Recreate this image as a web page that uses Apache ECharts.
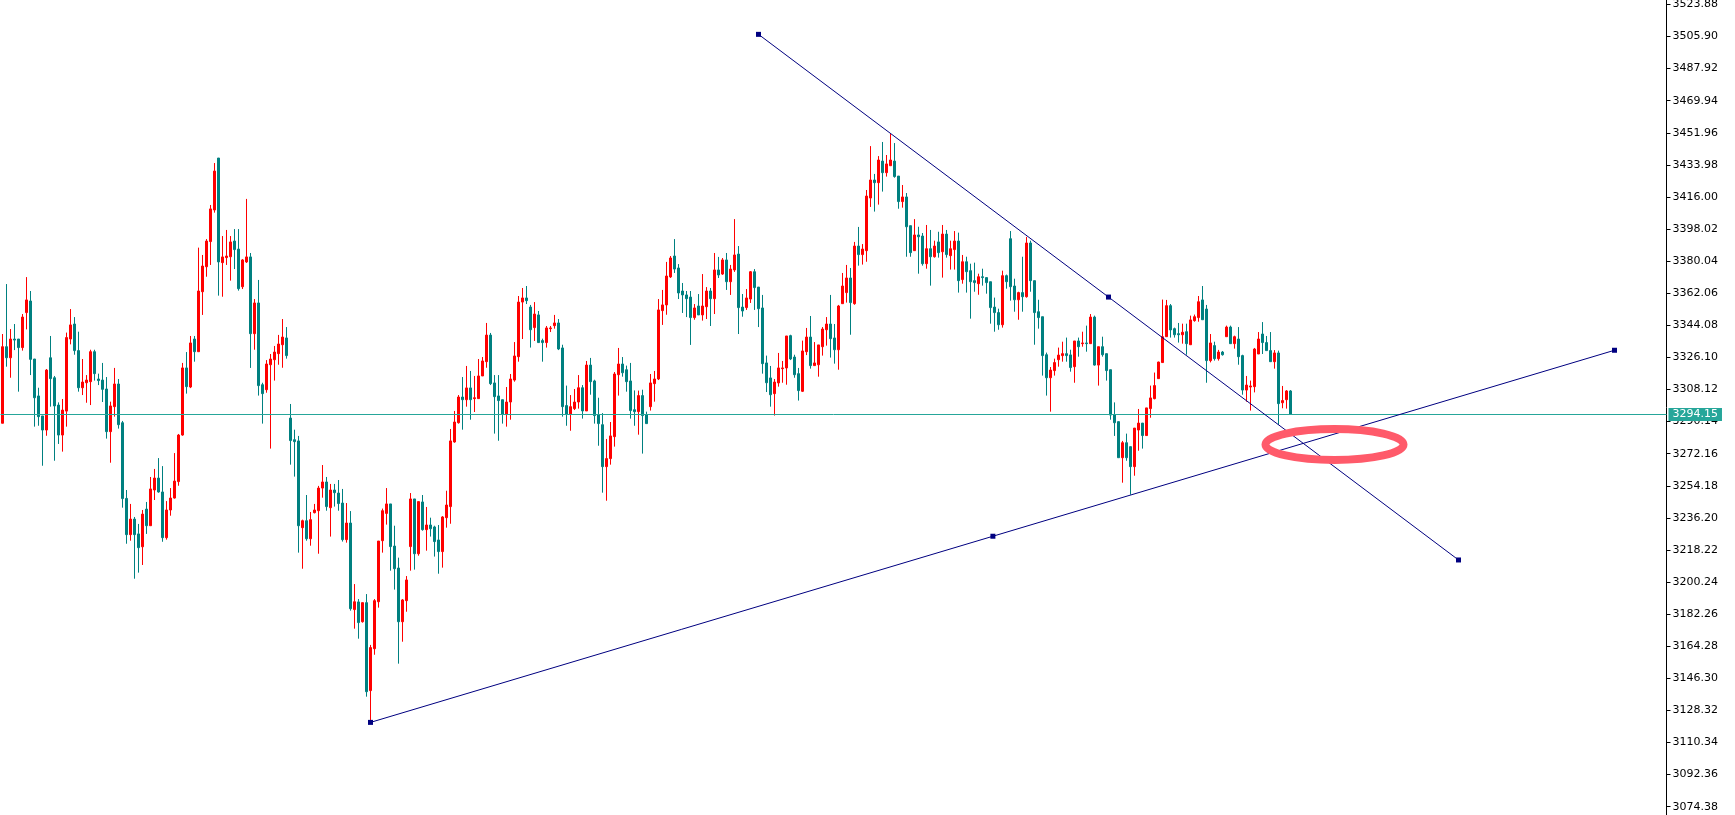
<!DOCTYPE html>
<html>
<head>
<meta charset="utf-8">
<script src="https://cdn.jsdelivr.net/npm/echarts@6/dist/echarts.min.js"></script>
<style>
html,body{margin:0;padding:0;background:#ffffff;overflow:hidden;}
#chart{width:1735px;height:815px;}
</style>
</head>
<body>
<div id="chart"></div>
<script>
// ---- data ----
const opens = [
3289.2,3332.1,3325.9,3336.4,3336.4,3331.6,3351.2,3357.7,3325.2,3304.5,
3293.3,3285.4,3325.9,3314.7,3299.4,3282.6,3296.0,3336.4,3344.8,3329.9,
3309.1,3311.9,3312.5,3329.3,3314.0,3313.4,3308.4,3284.5,3298.5,3311.2,
3289.5,3247.1,3226.8,3235.5,3227.2,3220.0,3241.1,3231.8,3251.8,3258.5,
3250.7,3225.1,3240.6,3247.3,3256.5,3282.6,3320.2,3309.5,3336.4,3329.3,
3362.9,3376.9,3391.0,3408.7,3437.8,3379.2,3382.0,3382.5,3391.3,3386.8,
3365.7,3379.6,3382.4,3339.4,3356.6,3310.8,3308.0,3322.0,3324.8,3328.2,
3333.2,3337.0,3292.1,3280.0,3279.3,3230.7,3234.6,3224.5,3239.1,3240.2,
3252.9,3256.3,3241.9,3251.8,3250.1,3244.5,3224.0,3233.3,3184.8,3189.1,
3178.0,3188.7,3139.4,3162.9,3189.2,3223.4,3238.7,3244.0,3220.4,3208.1,
3178.0,3189.8,3220.1,3246.8,3216.1,3245.1,3229.6,3232.2,3231.1,3223.8,
3217.3,3236.3,3242.5,3278.7,3289.5,3303.9,3302.4,3309.0,3303.0,3303.0,
3315.7,3323.7,3338.6,3311.8,3304.5,3302.4,3294.4,3301.1,3313.4,3326.5,
3357.1,3359.4,3354.3,3342.8,3349.9,3335.5,3334.4,3342.2,3343.9,3345.4,
3331.4,3299.1,3294.4,3297.4,3301.1,3309.1,3296.1,3321.8,3312.9,3294.0,
3288.4,3264.9,3269.4,3281.7,3316.4,3322.4,3319.2,3312.9,3296.8,3295.7,
3304.7,3294.0,3298.5,3311.4,3314.0,3352.3,3355.5,3371.2,3382.9,3376.2,
3363.3,3361.1,3359.9,3348.4,3354.9,3349.9,3354.5,3363.3,3359.0,3375.1,
3372.8,3380.7,3368.5,3375.1,3384.0,3354.3,3354.0,3358.8,3374.1,3365.5,
3353.8,3323.0,3314.6,3305.8,3311.8,3319.8,3320.2,3338.3,3326.3,3317.0,
3307.1,3329.3,3337.5,3321.5,3322.0,3332.1,3341.6,3344.8,3337.0,3330.4,
3356.2,3362.4,3370.6,3356.2,3388.5,3383.7,3385.9,3415.4,3425.5,3424.0,
3436.1,3429.6,3433.5,3436.1,3427.7,3413.4,3416.0,3399.9,3385.9,3394.7,
3394.1,3378.6,3387.0,3382.5,3390.8,3385.3,3395.2,3383.1,3386.5,3391.3,
3369.7,3379.7,3374.7,3369.1,3367.4,3371.3,3370.8,3368.5,3354.3,3351.2,
3344.4,3371.9,3392.6,3366.1,3358.4,3362.4,3360.1,3390.2,3369.1,3351.7,
3348.9,3327.6,3314.7,3318.7,3324.8,3327.1,3328.2,3327.5,3320.9,3335.3,
3333.8,3334.2,3333.8,3348.7,3321.8,3332.1,3328.2,3319.2,3294.0,3290.1,
3269.9,3278.3,3276.1,3264.9,3285.4,3289.3,3282.3,3297.4,3303.0,3314.2,
3323.2,3337.7,3355.1,3342.2,3339.4,3338.8,3340.5,3333.2,3346.7,3348.4,
3358.3,3353.2,3324.3,3332.7,3325.4,3329.1,3337.7,3343.1,3333.8,3336.4,
3327.1,3307.8,3309.5,3309.7,3328.0,3339.2,3334.4,3329.9,3323.7,3328.6,
3300.7,3302.4,3307.3
];
const highs = [
3339.2,3367.2,3342.0,3344.8,3336.4,3350.4,3371.1,3363.3,3325.2,3309.1,
3293.3,3319.6,3338.1,3315.7,3300.9,3302.8,3340.0,3353.2,3348.7,3340.5,
3325.2,3316.2,3330.4,3330.4,3317.0,3323.0,3315.1,3301.3,3320.2,3314.0,
3290.5,3251.8,3244.0,3236.7,3232.8,3240.6,3245.1,3259.1,3263.6,3269.7,
3265.2,3245.6,3252.9,3272.5,3283.2,3323.0,3329.1,3338.1,3338.1,3387.6,
3383.5,3392.4,3411.5,3435.0,3437.8,3394.1,3397.5,3394.1,3398.0,3398.0,
3381.2,3414.9,3384.6,3358.8,3369.5,3311.9,3324.6,3328.0,3332.5,3338.7,
3347.6,3343.1,3300.0,3285.6,3282.1,3235.2,3249.0,3239.5,3244.0,3254.1,
3265.8,3259.1,3255.2,3255.2,3257.4,3252.4,3244.5,3240.0,3199.1,3190.7,
3188.7,3193.5,3165.0,3190.7,3223.2,3241.4,3252.9,3244.0,3231.8,3213.9,
3190.7,3203.6,3250.1,3246.8,3245.3,3249.0,3242.3,3236.3,3231.8,3232.2,
3237.2,3251.4,3286.0,3296.1,3305.0,3315.1,3321.3,3318.5,3315.7,3325.2,
3326.3,3345.4,3339.8,3316.2,3316.2,3302.4,3309.5,3316.8,3334.7,3360.5,
3365.0,3366.1,3355.5,3357.1,3352.1,3336.6,3343.7,3343.7,3349.9,3347.6,
3333.2,3310.3,3305.0,3308.4,3316.2,3310.6,3324.1,3325.8,3313.6,3303.5,
3294.9,3280.4,3289.9,3317.9,3331.4,3326.3,3321.5,3323.0,3307.6,3307.5,
3308.0,3295.7,3316.8,3318.5,3358.8,3363.9,3379.6,3382.9,3392.4,3378.4,
3367.8,3363.3,3363.3,3356.0,3361.6,3372.8,3365.5,3365.0,3384.6,3382.4,
3381.8,3384.6,3377.9,3403.6,3388.5,3361.6,3364.4,3374.5,3375.6,3365.5,
3361.1,3327.1,3321.3,3314.0,3328.6,3324.1,3338.1,3338.8,3327.6,3320.2,
3335.5,3342.6,3349.3,3334.7,3333.1,3343.1,3348.7,3361.1,3344.8,3355.5,
3373.4,3377.9,3376.2,3390.8,3399.2,3389.6,3419.9,3444.5,3428.9,3438.9,
3446.8,3439.5,3451.3,3446.2,3427.7,3422.7,3418.2,3399.9,3403.6,3399.3,
3395.8,3400.3,3397.5,3391.5,3396.5,3400.3,3397.5,3391.5,3396.9,3396.0,
3383.5,3382.5,3378.6,3379.2,3373.0,3375.8,3370.8,3368.5,3359.6,3353.4,
3374.7,3372.5,3396.9,3370.2,3362.9,3382.5,3393.6,3391.5,3369.1,3358.4,
3348.9,3328.8,3320.7,3325.4,3331.6,3334.9,3337.2,3330.4,3335.3,3337.2,
3340.5,3343.9,3350.4,3349.5,3332.1,3337.7,3328.2,3319.2,3300.9,3290.1,
3279.3,3283.4,3276.1,3286.5,3297.2,3289.3,3297.8,3310.3,3317.6,3323.7,
3358.5,3358.3,3356.0,3342.8,3345.4,3345.0,3345.0,3349.5,3350.1,3360.5,
3366.1,3355.5,3339.2,3334.9,3330.3,3329.7,3343.9,3343.9,3338.3,3343.1,
3327.6,3315.7,3313.1,3331.4,3340.3,3345.9,3338.1,3340.3,3330.2,3329.9,
3310.1,3307.8,3307.8
];
const lows = [
3289.2,3320.9,3314.7,3330.2,3306.9,3329.9,3341.8,3316.2,3287.3,3287.8,
3265.4,3282.2,3298.5,3268.2,3277.6,3273.3,3287.3,3333.4,3327.6,3306.9,
3305.0,3300.7,3299.4,3313.1,3310.6,3301.1,3280.6,3267.1,3292.9,3286.2,
3241.9,3221.7,3223.4,3202.1,3205.5,3209.8,3227.2,3231.8,3246.2,3250.3,
3222.8,3224.0,3237.4,3247.0,3254.2,3282.2,3305.8,3308.9,3323.7,3329.3,
3349.9,3371.3,3377.9,3407.2,3360.7,3360.1,3377.9,3369.1,3375.6,3363.5,
3364.4,3379.0,3320.2,3330.4,3304.7,3289.0,3306.3,3275.0,3313.1,3322.0,
3320.3,3325.4,3266.0,3259.3,3216.7,3207.7,3223.4,3220.6,3238.7,3216.1,
3247.5,3240.2,3225.7,3242.5,3240.2,3222.9,3222.3,3184.2,3174.1,3168.5,
3177.5,3136.0,3121.6,3159.5,3185.9,3216.7,3232.4,3206.6,3196.0,3154.5,
3166.8,3183.6,3206.6,3207.2,3215.0,3229.0,3217.8,3225.7,3214.5,3204.9,
3208.3,3230.7,3232.9,3278.3,3289.0,3285.6,3298.5,3291.2,3295.5,3303.0,
3315.7,3320.3,3310.6,3283.4,3279.4,3289.0,3287.3,3291.2,3312.5,3323.7,
3336.4,3356.0,3331.6,3335.3,3334.4,3323.7,3331.6,3340.3,3342.2,3330.2,
3292.9,3287.8,3285.0,3296.6,3297.4,3291.8,3296.1,3305.2,3289.0,3276.6,
3250.3,3245.8,3266.0,3276.1,3304.7,3315.3,3306.9,3291.8,3287.8,3282.8,
3272.2,3289.0,3296.3,3301.3,3313.4,3344.3,3350.0,3370.6,3373.4,3358.8,
3351.0,3348.7,3333.1,3347.2,3349.9,3346.7,3347.6,3343.7,3350.4,3370.6,
3372.3,3363.9,3361.1,3374.0,3339.2,3348.9,3352.7,3356.6,3352.7,3343.1,
3317.0,3306.7,3298.5,3293.5,3309.7,3311.9,3310.8,3324.6,3314.7,3301.9,
3306.7,3327.4,3319.8,3321.5,3315.3,3327.1,3332.7,3326.0,3322.6,3319.2,
3356.2,3356.8,3338.8,3355.6,3377.5,3378.1,3379.7,3410.4,3407.8,3411.7,
3419.0,3427.4,3433.5,3426.8,3409.4,3410.0,3382.5,3382.5,3385.9,3373.0,
3377.5,3375.8,3366.3,3382.0,3382.0,3370.8,3382.0,3375.3,3375.3,3362.4,
3367.4,3362.4,3347.8,3362.9,3361.2,3366.3,3361.8,3345.0,3340.5,3341.6,
3342.8,3364.6,3357.9,3351.7,3347.2,3351.7,3359.6,3362.9,3333.2,3342.2,
3315.9,3304.7,3295.7,3315.9,3320.9,3323.7,3323.7,3318.1,3311.9,3326.5,
3332.1,3329.3,3333.6,3321.5,3310.3,3326.5,3313.1,3291.2,3282.1,3269.9,
3255.9,3268.2,3249.2,3259.8,3273.8,3275.0,3282.3,3292.3,3302.6,3314.2,
3323.2,3337.7,3337.2,3337.2,3334.4,3333.8,3327.6,3333.2,3346.1,3346.1,
3347.2,3311.9,3323.3,3324.3,3324.3,3327.1,3337.7,3333.8,3331.0,3322.0,
3305.2,3301.3,3296.3,3306.5,3328.0,3328.0,3329.9,3323.7,3319.8,3288.4,
3297.6,3297.4,3294.15
];
const closes = [
3332.1,3325.9,3336.4,3335.8,3331.6,3348.7,3358.3,3325.0,3303.5,3292.9,
3285.4,3319.0,3314.2,3298.9,3282.6,3296.6,3337.2,3344.3,3329.9,3309.1,
3312.3,3313.4,3329.3,3317.0,3313.1,3308.2,3284.5,3298.9,3311.2,3288.4,
3247.0,3226.8,3235.5,3226.8,3219.5,3238.3,3231.8,3252.4,3258.5,3250.7,
3225.1,3240.6,3247.3,3256.8,3282.6,3320.2,3309.7,3334.2,3329.3,3363.3,
3377.3,3391.3,3409.3,3430.5,3379.6,3382.4,3382.9,3390.8,3386.5,3364.6,
3380.7,3382.4,3339.4,3356.6,3310.3,3305.8,3322.4,3325.2,3329.1,3333.6,
3337.5,3327.1,3279.5,3278.9,3231.8,3234.6,3224.5,3235.2,3240.6,3252.9,
3256.3,3242.5,3251.8,3250.3,3244.2,3224.0,3233.3,3185.3,3189.2,3177.5,
3188.7,3138.8,3163.5,3189.8,3223.2,3240.2,3244.0,3220.1,3207.7,3178.0,
3190.2,3201.4,3246.8,3216.1,3245.3,3229.6,3232.2,3230.1,3222.9,3217.3,
3236.7,3243.4,3279.3,3289.9,3303.9,3302.4,3309.0,3302.4,3303.5,3315.7,
3324.1,3338.6,3311.4,3304.1,3301.9,3294.4,3301.1,3314.0,3326.9,3357.1,
3359.4,3357.9,3341.6,3350.4,3334.4,3334.4,3342.6,3342.6,3345.4,3330.8,
3298.5,3294.4,3298.5,3301.1,3309.1,3296.1,3321.8,3312.5,3293.5,3289.0,
3264.9,3269.4,3282.1,3316.8,3322.4,3317.5,3312.5,3296.3,3295.7,3304.7,
3293.5,3289.0,3311.8,3314.0,3352.7,3355.5,3371.7,3381.8,3375.6,3362.2,
3361.1,3359.0,3348.4,3353.8,3349.9,3354.9,3363.3,3359.0,3375.1,3372.3,
3380.7,3368.5,3375.6,3383.5,3354.0,3352.1,3359.4,3374.1,3365.2,3353.4,
3322.6,3311.9,3305.2,3312.3,3320.2,3320.2,3338.1,3325.2,3316.4,3307.5,
3329.7,3337.5,3321.5,3323.0,3333.1,3342.0,3344.8,3336.6,3330.4,3354.9,
3366.1,3370.6,3356.8,3388.5,3383.7,3386.8,3416.5,3425.5,3424.0,3436.7,
3429.6,3434.5,3436.7,3427.4,3413.4,3416.0,3399.3,3384.8,3394.7,3393.7,
3378.6,3387.0,3382.5,3388.5,3384.8,3395.2,3383.7,3387.0,3391.3,3369.1,
3379.7,3374.1,3368.5,3368.0,3371.3,3370.8,3368.0,3354.0,3351.2,3344.4,
3371.9,3368.5,3365.7,3358.4,3362.4,3360.1,3390.2,3369.1,3351.2,3348.4,
3327.1,3314.7,3319.0,3323.2,3327.4,3328.2,3327.1,3320.4,3335.3,3332.1,
3334.2,3333.8,3348.7,3321.8,3332.1,3327.6,3318.7,3293.8,3289.5,3269.9,
3278.3,3269.9,3264.9,3286.5,3289.3,3282.3,3297.8,3303.4,3310.3,3323.5,
3337.7,3355.1,3341.5,3338.8,3338.8,3340.2,3333.8,3347.1,3348.9,3357.3,
3347.2,3324.3,3334.2,3325.4,3329.1,3327.6,3343.1,3333.8,3337.7,3326.5,
3307.8,3310.6,3310.1,3330.8,3336.4,3334.4,3329.9,3323.7,3328.6,3300.2,
3301.9,3307.3,3294.15
];
const priceTicks = [
3074.38,3092.36,3110.34,3128.32,3146.30,3164.28,3182.26,3200.24,3218.22,
3236.20,3254.18,3272.16,3290.14,3308.12,3326.10,3344.08,3362.06,3380.04,
3398.02,3416.00,3433.98,3451.96,3469.94,3487.92,3505.90,3523.88
];
const bidPrice = 3294.15;
// trend line anchors: [bar index, price]
const supportLine = [[92, 3121.6], [247.6, 3225.9], [403, 3330.1]];
const resistanceLine = [[189, 3507.1], [276.5, 3359.9], [364, 3212.6]];
// highlighted crossing area: [bar index, price]
const highlightCenter = [[333, 3277.3]];
const priceMin = 3069.71;
const priceMax = 3526.35;
const barMin = -0.5;
const barMax = 416;

// ---- chart ----
const UP = '#ff0000';
const DOWN = '#008080';
const BID = '#26a69a';
const NAVY = '#000080';
const LABEL_FONT = 'DejaVu Sans, Verdana, sans-serif';

const candleData = opens.map((o, i) => [i, o, closes[i], lows[i], highs[i]]);

const chart = echarts.init(document.getElementById('chart'), null, {renderer: 'canvas', devicePixelRatio: 1});
chart.setOption({
  animation: false,
  backgroundColor: '#ffffff',
  grid: {left: 0.5, right: 68.5, top: 0, bottom: 0, containLabel: false, outerBoundsMode: 'none'},
  xAxis: {type: 'value', min: barMin, max: barMax, show: false},
  yAxis: {
    type: 'value',
    position: 'right',
    min: priceMin,
    max: priceMax,
    splitLine: {show: false},
    axisLine: {show: true, onZero: false, lineStyle: {color: '#000000', width: 1}},
    axisTick: {show: true, inside: false, length: 4, lineStyle: {color: '#000000'}, customValues: priceTicks},
    axisLabel: {
      show: true, customValues: priceTicks, margin: 6,
      color: '#000000', fontSize: 11, fontFamily: LABEL_FONT,
      formatter: v => Number(v).toFixed(2)
    }
  },
  series: [
    {
      type: 'candlestick',
      data: candleData,
      encode: {x: 0, y: [1, 2, 3, 4]},
      barWidth: 2,
      itemStyle: {color: UP, color0: DOWN, borderColor: UP, borderColor0: DOWN, borderWidth: 1},
      emphasis: {disabled: true},
      silent: true,
      markLine: {
        silent: true,
        symbol: ['none', 'none'],
        animation: false,
        lineStyle: {color: BID, width: 1, type: 'solid'},
        label: {
          show: true, position: 'end', distance: 2,
          formatter: () => bidPrice.toFixed(2),
          color: '#ffffff', backgroundColor: BID,
          fontSize: 11, fontFamily: LABEL_FONT,
          padding: [1, 4, 1, 4]
        },
        emphasis: {disabled: true},
        data: [{yAxis: bidPrice}]
      }
    },
    {
      type: 'line',
      data: resistanceLine, symbol: 'rect', symbolSize: 5, showSymbol: true,
      lineStyle: {color: NAVY, width: 1}, itemStyle: {color: NAVY},
      emphasis: {disabled: true}, silent: true, z: 5
    },
    {
      type: 'line',
      data: supportLine, symbol: 'rect', symbolSize: 5, showSymbol: true,
      lineStyle: {color: NAVY, width: 1}, itemStyle: {color: NAVY},
      emphasis: {disabled: true}, silent: true, z: 5
    },
    {
      type: 'custom',
      data: highlightCenter, silent: true, z: 10,
      renderItem: (params, api) => {
        const p = api.coord([api.value(0), api.value(1)]);
        return {
          type: 'ellipse',
          shape: {cx: p[0], cy: p[1], rx: 69, ry: 15.5},
          style: {fill: 'none', stroke: '#ff5a6a', lineWidth: 8}
        };
      }
    }
  ]
});
</script>
</body>
</html>
